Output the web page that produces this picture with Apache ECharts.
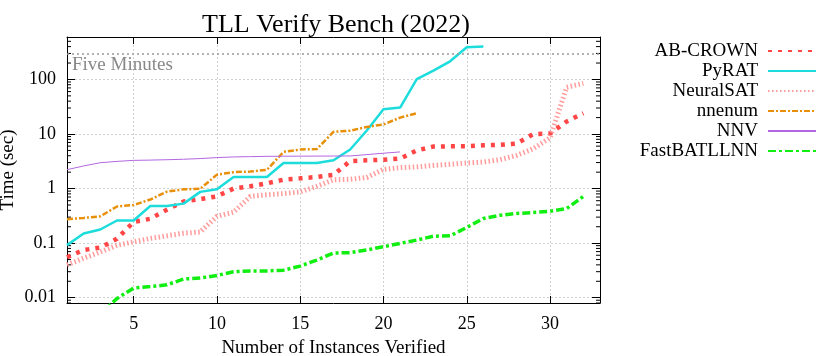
<!DOCTYPE html>
<html>
<head>
<meta charset="utf-8">
<style>
  html, body { margin: 0; padding: 0; background: #fff; }
  #main { width: 830px; height: 356px; }
</style>
<script src="https://cdn.jsdelivr.net/npm/echarts@6/dist/echarts.min.js"></script>
</head>
<body>
<div id="main"></div>
<script>
// time (sec) per instance, sorted, instance number = index + 1
var abCrown = [0.055, 0.075, 0.083, 0.12, 0.245, 0.28, 0.41, 0.58, 0.64, 0.72, 1.0, 1.1, 1.25, 1.46, 1.54, 1.63, 1.78, 3.2, 3.3, 3.38, 3.55, 5.0, 5.9, 5.95, 6.0, 6.2, 6.35, 6.7, 10, 10.2, 17, 24];
var pyrat = [0.092, 0.15, 0.178, 0.26, 0.26, 0.48, 0.48, 0.53, 0.87, 0.97, 1.63, 1.63, 1.63, 2.95, 2.95, 2.95, 3.3, 5.2, 11.6, 28.5, 30.6, 101, 145, 215, 390, 400];
var neuralSat = [0.040, 0.053, 0.069, 0.091, 0.106, 0.122, 0.136, 0.152, 0.16, 0.31, 0.37, 0.72, 0.77, 0.81, 0.87, 1.1, 1.45, 1.48, 1.6, 2.25, 2.42, 2.5, 2.66, 2.78, 2.94, 3.07, 3.38, 4.06, 5.4, 8.5, 72, 85];
var nnenum = [0.275, 0.29, 0.31, 0.47, 0.50, 0.63, 0.88, 0.97, 0.99, 1.8, 2.0, 2.05, 2.2, 4.7, 5.2, 5.3, 11, 11.5, 13.5, 15, 20, 24];
var nnv = [2.22, 2.6, 2.98, 3.15, 3.29, 3.33, 3.38, 3.45, 3.55, 3.7, 3.8, 3.85, 3.9, 3.92, 3.93, 3.94, 3.95, 3.96, 4.2, 4.45, 4.7];
var fastBatllnn = [0.004, 0.0045, 0.005, 0.0097, 0.015, 0.016, 0.0172, 0.022, 0.023, 0.0255, 0.030, 0.031, 0.031, 0.032, 0.038, 0.049, 0.066, 0.067, 0.075, 0.086, 0.099, 0.114, 0.134, 0.136, 0.194, 0.284, 0.325, 0.35, 0.365, 0.385, 0.43, 0.72];

var xTicks = [5, 10, 15, 20, 25, 30];
var yTicks = [0.01, 0.1, 1, 10, 100];
var yMinor = [0.008, 0.009, 0.02, 0.03, 0.04, 0.05, 0.06, 0.07, 0.08, 0.09,
  0.2, 0.3, 0.4, 0.5, 0.6, 0.7, 0.8, 0.9, 2, 3, 4, 5, 6, 7, 8, 9,
  20, 30, 40, 50, 60, 70, 80, 90, 200, 300, 400, 500];
var fiveMinutes = 300;

var font = 'Liberation Serif';

function pts(arr) {
  return arr.map(function (v, i) { return [i + 1, v]; });
}

var chart = echarts.init(document.getElementById('main'));

var option = {
  animation: false,
  title: {
    text: 'TLL Verify Bench (2022)',
    left: 331,
    textAlign: 'center',
    top: 7,
    textStyle: { fontFamily: font, fontSize: 26, fontWeight: 'normal', color: '#000' }
  },
  legend: {
    orient: 'vertical',
    right: 8,
    top: 36,
    align: 'right',
    itemWidth: 48,
    itemHeight: 14,
    itemGap: 0,
    itemStyle: { opacity: 0 },
    textStyle: { fontFamily: font, fontSize: 19, lineHeight: 20, color: '#000', padding: [0, 5, 0, 0] },
    data: ['AB-CROWN', 'PyRAT', 'NeuralSAT', 'nnenum', 'NNV', 'FastBATLLNN']
  },
  grid: { left: 67, right: 230, top: 37, bottom: 53, outerBoundsMode: 'none', containLabel: false },
  xAxis: [{
    type: 'value',
    min: 1,
    max: 33,
    name: 'Number of Instances Verified',
    nameLocation: 'middle',
    nameGap: 36,
    nameMoveOverlap: false,
    nameTextStyle: { fontFamily: font, fontSize: 19, color: '#000' },
    axisLine: { lineStyle: { color: '#000', width: 1 } },
    axisTick: { inside: true, length: 7, customValues: xTicks, lineStyle: { color: '#000' } },
    axisLabel: { customValues: xTicks, fontFamily: font, fontSize: 18, color: '#000', margin: 12 },
    splitLine: { show: true, lineStyle: { color: '#d0d0d0', type: [2, 2] } }
  }, {
    type: 'value',
    position: 'top',
    min: 1,
    max: 33,
    axisLine: { onZero: false, lineStyle: { color: '#000', width: 1 } },
    axisTick: { inside: true, length: 7, customValues: xTicks, lineStyle: { color: '#000' } },
    axisLabel: { show: false },
    splitLine: { show: false }
  }],
  yAxis: [{
    type: 'log',
    min: 0.008,
    max: 600,
    name: 'Time (sec)',
    nameLocation: 'middle',
    nameGap: 49,
    nameMoveOverlap: false,
    nameTextStyle: { fontFamily: font, fontSize: 19, color: '#000' },
    axisLine: { show: true, lineStyle: { color: '#000', width: 1 } },
    axisTick: { inside: true, length: 8, customValues: yTicks, lineStyle: { color: '#000' } },
    axisLabel: { customValues: yTicks, fontFamily: font, fontSize: 18, color: '#000', margin: 11,
      formatter: function (v) { return String(+v.toPrecision(3)); } },
    splitLine: { show: true, lineStyle: { color: '#d0d0d0', type: [2, 2] } }
  }, {
    type: 'log',
    position: 'right',
    min: 0.008,
    max: 600,
    axisLine: { show: true, onZero: false, lineStyle: { color: '#000', width: 1 } },
    axisTick: { inside: true, length: 8, customValues: yTicks, lineStyle: { color: '#000' } },
    axisLabel: { show: false },
    splitLine: { show: false }
  }],
  series: [{
    type: 'line',
    silent: true,
    data: [],
    markLine: {
      silent: true,
      symbol: 'none',
      lineStyle: { color: '#999', width: 1.5, type: [2, 3] },
      label: { show: true, position: 'insideStartBottom', formatter: 'Five Minutes',
        fontFamily: font, fontSize: 19, color: '#888', distance: [5, 2] },
      data: [{ yAxis: fiveMinutes }]
    }
  }, {
    type: 'custom',
    silent: true,
    data: yMinor.map(function (v) { return [1, v]; }),
    renderItem: function (params, api) {
      var l = api.coord([1, api.value(1)]);
      var r = api.coord([33, api.value(1)]);
      return {
        type: 'group',
        children: [
          { type: 'line', shape: { x1: l[0], y1: l[1], x2: l[0] + 4, y2: l[1] }, style: { stroke: '#000', lineWidth: 1 } },
          { type: 'line', shape: { x1: r[0] - 4, y1: r[1], x2: r[0], y2: r[1] }, style: { stroke: '#000', lineWidth: 1 } }
        ]
      };
    }
  }, {
    name: 'AB-CROWN',
    type: 'line',
    symbol: 'none',
    data: pts(abCrown),
    itemStyle: { color: '#ff4545' },
    lineStyle: { color: '#ff4545', width: 4.5, type: [4, 6] }
  }, {
    name: 'PyRAT',
    type: 'line',
    symbol: 'none',
    data: pts(pyrat),
    itemStyle: { color: '#1cdcdc' },
    lineStyle: { color: '#1cdcdc', width: 2.5 }
  }, {
    name: 'NeuralSAT',
    type: 'line',
    symbol: 'none',
    data: pts(neuralSat),
    itemStyle: { color: '#ff9c9c' },
    lineStyle: { color: '#ff9c9c', width: 5, type: [1.5, 2.5] }
  }, {
    name: 'nnenum',
    type: 'line',
    symbol: 'none',
    data: pts(nnenum),
    itemStyle: { color: '#e8900a' },
    lineStyle: { color: '#e8900a', width: 2.5, type: [6, 2, 2, 2] }
  }, {
    name: 'NNV',
    type: 'line',
    symbol: 'none',
    data: pts(nnv),
    itemStyle: { color: '#b266e0' },
    lineStyle: { color: '#b266e0', width: 1 }
  }, {
    name: 'FastBATLLNN',
    type: 'line',
    symbol: 'none',
    data: pts(fastBatllnn),
    itemStyle: { color: '#11ee11' },
    lineStyle: { color: '#11ee11', width: 3.5, type: [8, 3, 3, 3] }
  }]
};

chart.setOption(option);
</script>
</body>
</html>
